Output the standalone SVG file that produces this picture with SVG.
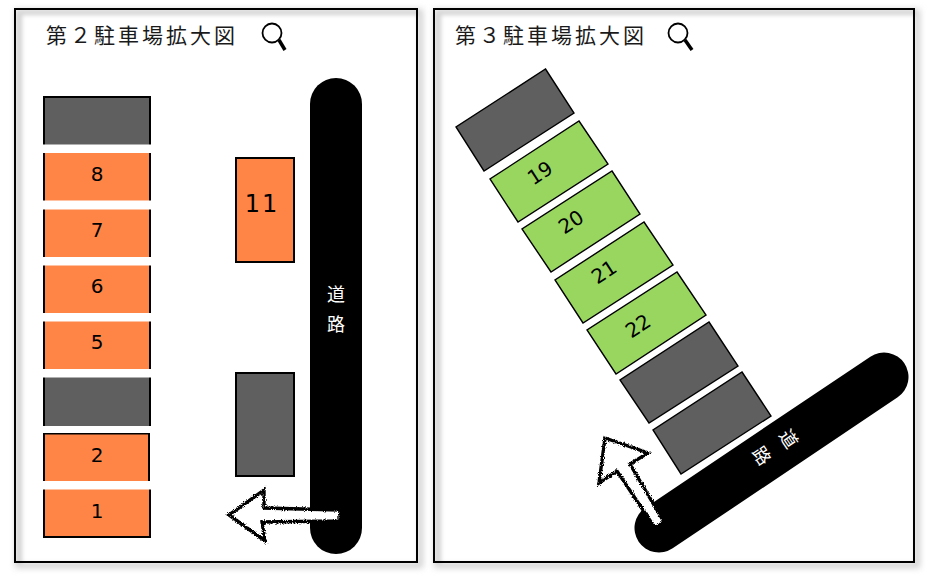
<svg xmlns="http://www.w3.org/2000/svg" width="931" height="578" viewBox="0 0 931 578">
<style>
.t{font-family:"Noto Sans CJK JP","Noto Sans",sans-serif;font-size:21px;fill:#1a1a1a;letter-spacing:3px}
.n{font-family:"DejaVu Sans",sans-serif;font-size:20px;fill:#000;text-anchor:middle;dominant-baseline:central}
.r{font-family:"Noto Sans CJK JP",sans-serif;font-size:18px;fill:#fff;text-anchor:middle;dominant-baseline:central}
.o{fill:#ff8547;stroke:#000;stroke-width:2}
.d{fill:#5f5f5f;stroke:#000;stroke-width:2}
.g{fill:#98d660;stroke:#000;stroke-width:1.4}
.dd{fill:#5f5f5f;stroke:#000;stroke-width:1.4}
.b{fill:#fff}
.road{stroke:#000;stroke-linecap:round;fill:none}
.arrow{fill:#fff;stroke:#000;stroke-width:3.4;filter:url(#rough)}
.mag{fill:none;stroke:#000}
.frame{fill:none;stroke:#000;stroke-width:2}
.sh{fill:#d2d2d2;filter:url(#blur)}
.in{fill:#fff;filter:url(#blur2)}
</style>
<defs>
<filter id="blur" x="-5%" y="-5%" width="110%" height="110%"><feGaussianBlur stdDeviation="3"/></filter>
<filter id="blur2" x="-5%" y="-5%" width="110%" height="110%"><feGaussianBlur stdDeviation="2"/></filter>
<filter id="rough" x="-10%" y="-10%" width="120%" height="120%"><feTurbulence type="fractalNoise" baseFrequency="0.9" numOctaves="2" seed="3" result="n"/><feDisplacementMap in="SourceGraphic" in2="n" scale="4" xChannelSelector="R" yChannelSelector="G"/></filter>
</defs>
<rect width="931" height="578" fill="#fff"/>
<g id="panel-2-bg">
<rect class="sh" x="15" y="9" width="408" height="559"/>
<rect class="in" x="22" y="15" width="396" height="548"/>
</g>
<g id="panel-3-bg">
<rect class="sh" x="434" y="9" width="486" height="559"/>
<rect class="in" x="441" y="15" width="474" height="548"/>
</g>
<g id="road-2"><line class="road" x1="336" y1="104" x2="336" y2="528" stroke-width="52"/>
<text class="r" x="336" y="293">道</text><text class="r" x="336" y="323">路</text></g>
<g id="slots-2">
<g id="slot-top"><rect class="d" x="44" y="97" width="106" height="54"/></g>
<g id="slot-8"><rect class="o" x="44" y="150" width="106" height="54"/><text class="n" x="97" y="174">8</text></g>
<g id="slot-7"><rect class="o" x="44" y="206" width="106" height="54"/><text class="n" x="97" y="230">7</text></g>
<g id="slot-6"><rect class="o" x="44" y="262" width="106" height="54"/><text class="n" x="97" y="286">6</text></g>
<g id="slot-5"><rect class="o" x="44" y="318" width="106" height="54"/><text class="n" x="97" y="342">5</text></g>
<g id="slot-mid"><rect class="d" x="44" y="374" width="106" height="56"/></g>
<g id="slot-2"><rect class="o" x="44" y="433.500" width="105" height="50"/><text class="n" x="97" y="455">2</text></g>
<g id="slot-1"><rect class="o" x="44" y="486" width="106" height="51"/><text class="n" x="97" y="511">1</text></g>
<rect class="b" x="42" y="144.500" width="110" height="8.500"/>
<rect class="b" x="42" y="200.500" width="110" height="9"/>
<rect class="b" x="42" y="257" width="110" height="8.500"/>
<rect class="b" x="42" y="313" width="110" height="8.500"/>
<rect class="b" x="42" y="369" width="110" height="8.500"/>
<rect class="b" x="42" y="426" width="110" height="7"/>
<rect class="b" x="42" y="481" width="110" height="8.500"/>
</g>
<g id="slot-11"><rect class="o" x="236" y="158" width="58" height="104"/><text class="n" x="262" y="204" style="font-size:24px;letter-spacing:2px">11</text></g>
<g id="slot-gray-2"><rect class="d" x="236" y="373" width="58" height="103"/></g>
<g id="road-3"><line class="road" x1="659" y1="528" x2="884" y2="377" stroke-width="49"/>
<text class="r" transform="translate(790,438) rotate(56)" x="0" y="0">道</text>
<text class="r" transform="translate(763,455) rotate(56)" x="0" y="0">路</text></g>
<g id="slots-3">
<g id="slot-gray-a"><polygon class="dd" points="545.500,69 574,113 484,171 456,127"/></g>
<g id="slot-19"><polygon class="g" points="579,121 608,164 518,222 490,179"/><text class="n" transform="translate(540,173) rotate(-33)">19</text></g>
<g id="slot-20"><polygon class="g" points="612,171 640,214 551,272 522,229"/><text class="n" transform="translate(571,222) rotate(-33)">20</text></g>
<g id="slot-21"><polygon class="g" points="644,222 673,265 583,323 555,280"/><text class="n" transform="translate(604,272) rotate(-33)">21</text></g>
<g id="slot-22"><polygon class="g" points="677,272 706,315 616,374 587,330"/><text class="n" transform="translate(638,326) rotate(-33)">22</text></g>
<g id="slot-gray-b"><polygon class="dd" points="709,322 738,366 649,423 620,380"/></g>
<g id="slot-gray-c"><polygon class="dd" points="742,372 771,416 681,474 653,430"/></g>
</g>
<g id="connectors">
<polygon class="arrow" points="229,515 264,490 264,508 340,510 340,521 262,522 265,541"/>
<polygon class="arrow" points="605,438 648,453 630,464 664,522 655,528 617,471 599,483"/>
</g>
<g id="title-2"><text class="t" x="46" y="43">第２駐車場拡大図</text>
<circle class="mag" cx="272" cy="33" r="9.500" stroke-width="1.800"/><line class="mag" x1="279" y1="40" x2="285" y2="50" stroke-width="3.500"/></g>
<g id="title-3"><text class="t" x="455" y="43">第３駐車場拡大図</text>
<circle class="mag" cx="678" cy="33" r="9.500" stroke-width="1.800"/><line class="mag" x1="685" y1="40" x2="692" y2="50" stroke-width="3.500"/></g>
<g id="frames">
<rect class="frame" x="15" y="9" width="402" height="553"/>
<rect class="frame" x="434" y="9" width="480" height="553"/>
</g>
</svg>
